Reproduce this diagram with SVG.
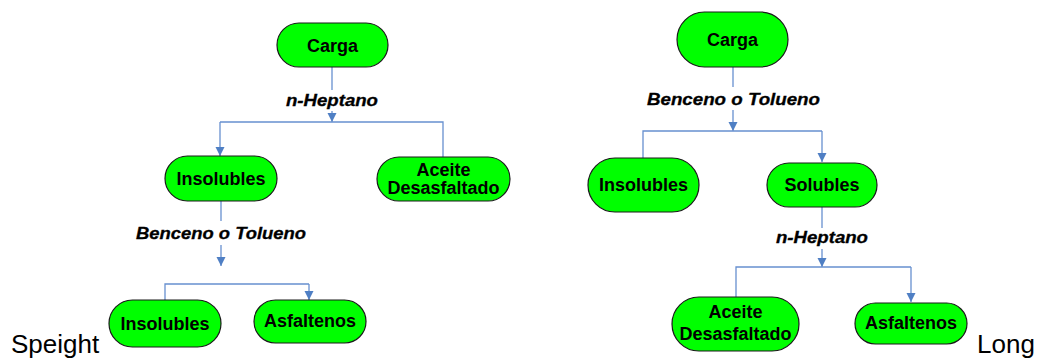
<svg xmlns="http://www.w3.org/2000/svg" width="1037" height="360" viewBox="0 0 1037 360">
<defs>
<style>
.node{fill:#00ff00;stroke:#1a1a1a;stroke-width:1.2}
.nt{font-family:"Liberation Sans",Arial,sans-serif;font-weight:bold;font-size:18px;fill:#000;text-anchor:middle}
.lab{font-family:"Liberation Sans",Arial,sans-serif;font-weight:bold;font-style:italic;font-size:16px;fill:#000;stroke:#000;stroke-width:0.3;text-anchor:middle}
.side{font-family:"Liberation Sans",Arial,sans-serif;font-size:26px;fill:#000}
.c{fill:none;stroke:#6790cf;stroke-width:1.3}
</style>
<marker id="ah" markerUnits="userSpaceOnUse" markerWidth="10" markerHeight="10" refX="9" refY="4.5" orient="auto">
<path d="M0,0 L9,4.5 L0,9 z" fill="#4f7fc4"/>
</marker>
</defs>
<rect width="1037" height="360" fill="#fff"/>
<g id="connectors">
<path class="c" d="M332,67 V90"/>
<path class="c" d="M332,111 V122" marker-end="url(#ah)"/>
<path class="c" d="M220,122 H443 V157"/>
<path class="c" d="M220,122 V156" marker-end="url(#ah)"/>
<path class="c" d="M221,201 V221"/>
<path class="c" d="M221,245 V266" marker-end="url(#ah)"/>
<path class="c" d="M165,300 V284 H309"/>
<path class="c" d="M309,284 V300" marker-end="url(#ah)"/>
<path class="c" d="M733,67 V87"/>
<path class="c" d="M733,110 V131" marker-end="url(#ah)"/>
<path class="c" d="M643,158 V131 H822"/>
<path class="c" d="M822,131 V162" marker-end="url(#ah)"/>
<path class="c" d="M822,207 V228"/>
<path class="c" d="M822,249 V267" marker-end="url(#ah)"/>
<path class="c" d="M736,297 V267 H911"/>
<path class="c" d="M911,267 V302" marker-end="url(#ah)"/>
<text class="lab" x="332" y="106" textLength="92" lengthAdjust="spacingAndGlyphs">n-Heptano</text>
<text class="lab" x="221" y="239" textLength="170" lengthAdjust="spacingAndGlyphs">Benceno o Tolueno</text>
<text class="lab" x="733.5" y="105" textLength="173" lengthAdjust="spacingAndGlyphs">Benceno o Tolueno</text>
<text class="lab" x="822" y="242.5" textLength="92" lengthAdjust="spacingAndGlyphs">n-Heptano</text>
</g>
<g id="carga1"><rect class="node" x="277" y="23" width="111" height="44" rx="22"/><text class="nt" x="332.5" y="51.5">Carga</text></g>
<g id="insolubles1"><rect class="node" x="165" y="156" width="112" height="45" rx="22.5"/><text class="nt" x="221" y="185">Insolubles</text></g>
<g id="aceite1"><rect class="node" x="377" y="157" width="133" height="44" rx="22"/><text class="nt" x="443.5" y="176">Aceite</text><text class="nt" x="443.5" y="194">Desasfaltado</text></g>
<g id="insolubles2"><rect class="node" x="109" y="300" width="112" height="47" rx="23.5"/><text class="nt" x="165" y="329.5">Insolubles</text></g>
<g id="asfaltenos1"><rect class="node" x="254" y="300" width="112" height="43" rx="21.5"/><text class="nt" x="310" y="327">Asfaltenos</text></g>
<g id="carga2"><rect class="node" x="677" y="12" width="111" height="55" rx="27.5"/><text class="nt" x="732.5" y="45.5">Carga</text></g>
<g id="insolubles3"><rect class="node" x="588" y="158" width="111" height="54" rx="27"/><text class="nt" x="643.5" y="191">Insolubles</text></g>
<g id="solubles"><rect class="node" x="767" y="163" width="110" height="44" rx="22"/><text class="nt" x="822" y="191">Solubles</text></g>
<g id="aceite2"><rect class="node" x="672" y="297" width="127" height="54" rx="27"/><text class="nt" x="735.5" y="318">Aceite</text><text class="nt" x="735.5" y="340">Desasfaltado</text></g>
<g id="asfaltenos2"><rect class="node" x="855" y="303" width="112" height="41" rx="20.5"/><text class="nt" x="911" y="329">Asfaltenos</text></g>
<text class="side" x="11" y="353">Speight</text>
<text class="side" x="977" y="353">Long</text>
</svg>
